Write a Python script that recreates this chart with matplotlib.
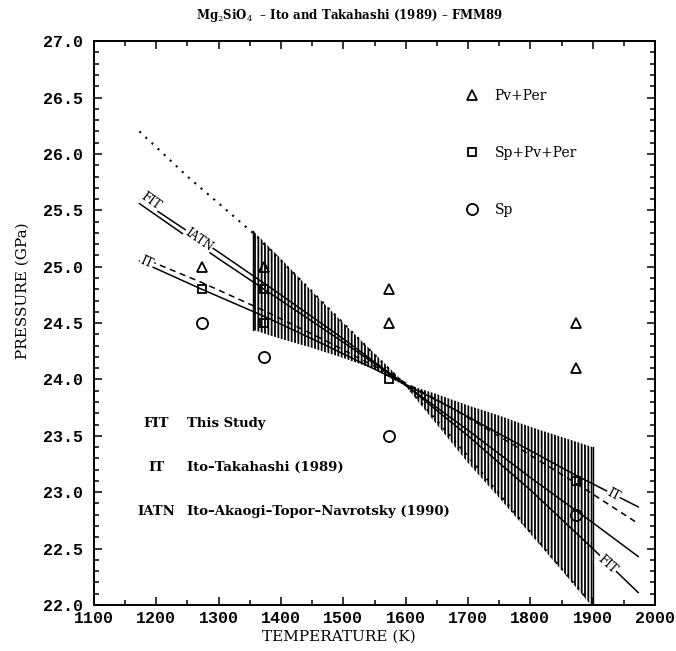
import matplotlib
matplotlib.use("Agg")
import matplotlib.pyplot as plt
from matplotlib.ticker import MultipleLocator, FormatStrFormatter

# phase boundaries (T in K, P in GPa)
T_fit = [1173, 1200, 1300, 1400, 1500, 1600, 1700, 1800, 1900, 1973]
P_fit = [25.60, 25.50, 25.13, 24.75, 24.36, 23.95, 23.50, 23.02, 22.50, 22.11]
T_iatn = [1173, 1300, 1400, 1500, 1600, 1700, 1800, 1900, 1973]
P_iatn = [25.56, 25.07, 24.70, 24.33, 23.95, 23.55, 23.13, 22.73, 22.43]
T_it = [1173, 1273, 1373, 1473, 1573, 1673, 1773, 1873, 1973]
P_it = [25.05, 24.80, 24.56, 24.30, 24.03, 23.75, 23.45, 23.15, 22.87]
T_itd = [1190, 1273, 1373, 1473, 1573, 1673, 1773, 1873, 1968]
P_itd = [25.05, 24.86, 24.61, 24.34, 24.05, 23.75, 23.42, 23.08, 22.74]
T_dot = [1173, 1250, 1355, 1450, 1550, 1600, 1700, 1800, 1890]
P_dot = [26.20, 25.80, 25.30, 24.78, 24.22, 23.95, 23.32, 22.65, 22.06]

# uncertainty envelope of the fit
T_env = [1355, 1400, 1450, 1500, 1550, 1600, 1650, 1700, 1750, 1800, 1850, 1900]
P_env_hi = [25.32, 25.07, 24.78, 24.50, 24.23, 23.96, 23.87, 23.77, 23.68, 23.58, 23.49, 23.40]
P_env_lo = [24.44, 24.36, 24.28, 24.19, 24.09, 23.94, 23.60, 23.26, 22.95, 22.63, 22.31, 21.98]

# experiments
T_pv = [1273, 1373, 1573, 1573, 1873, 1873]
P_pv = [25.0, 25.0, 24.8, 24.5, 24.5, 24.1]
T_mix = [1273, 1373, 1373, 1573, 1873]
P_mix = [24.8, 24.8, 24.5, 24.0, 23.1]
T_sp = [1273, 1373, 1573, 1873]
P_sp = [24.5, 24.2, 23.5, 22.8]

key_abbr = ["FIT", "IT", "IATN"]
key_text = ["This Study", "Ito\u2013Takahashi (1989)", "Ito\u2013Akaogi\u2013Topor\u2013Navrotsky (1990)"]

SERIF = "DejaVu Serif"
plt.rcParams["hatch.linewidth"] = 1.3
plt.rcParams["mathtext.fontset"] = "dejavuserif"

fig = plt.figure(figsize=(6.76, 6.51), dpi=100)
ax = fig.add_axes([0.139, 0.0707, 0.830, 0.866])

ax.fill_between(T_env, P_env_lo, P_env_hi, facecolor="none", edgecolor="black",
                hatch="|" * 5, linewidth=0, zorder=1)
ax.plot([T_env[0]] * 2, [P_env_lo[0], P_env_hi[0]], color="black", lw=1.0)
ax.plot([T_env[-1]] * 2, [P_env_lo[-1], P_env_hi[-1]], color="black", lw=1.0)

ax.plot(T_dot, P_dot, color="black", lw=1.5, ls=(0, (1, 3)), zorder=2)
ax.plot(T_fit, P_fit, color="black", lw=1.1, zorder=2)
ax.plot(T_iatn, P_iatn, color="black", lw=1.1, zorder=2)
ax.plot(T_it, P_it, color="black", lw=1.1, zorder=2)
ax.plot(T_itd, P_itd, color="black", lw=1.1, ls=(0, (4, 3)), zorder=2)

lab = dict(family=SERIF, fontsize=8.5, ha="center", va="center", zorder=4,
           bbox=dict(facecolor="white", edgecolor="none", pad=0.5))
ax.text(1191, 25.58, "FIT", rotation=-35, **lab)
ax.text(1268, 25.24, "IATN", rotation=-35, **lab)
ax.text(1185, 25.04, "IT", rotation=-24, **lab)
ax.text(1933, 22.98, "IT", rotation=-27, **lab)
ax.text(1923, 22.36, "FIT", rotation=-42, **lab)

mk = dict(ls="none", mfc="none", mec="black", mew=1.3, zorder=3)
h1, = ax.plot(T_pv, P_pv, marker="^", ms=7, label="Pv+Per", **mk)
h2, = ax.plot(T_mix, P_mix, marker="s", ms=6, label="Sp+Pv+Per", **mk)
h3, = ax.plot(T_sp, P_sp, marker="o", ms=8, label="Sp", **mk)
ax.legend(handles=[h1, h2, h3], loc="upper left", bbox_to_anchor=(0.64, 0.937),
          frameon=False, labelspacing=3.1, handlelength=1.0, handletextpad=1.1,
          prop=dict(family=SERIF, size=10))

for i, (a, t) in enumerate(zip(key_abbr, key_text)):
    y = 0.3227 - i * 0.0787
    ax.text(0.1105, y, a, transform=ax.transAxes, ha="center", va="center",
            family=SERIF, fontsize=9.5, fontweight="bold")
    ax.text(0.166, y, t, transform=ax.transAxes, ha="left", va="center",
            family=SERIF, fontsize=9.5, fontweight="bold")

ax.set_xlim(1100, 2000)
ax.set_ylim(22.0, 27.0)
ax.xaxis.set_major_locator(MultipleLocator(100))
ax.xaxis.set_minor_locator(MultipleLocator(50))
ax.yaxis.set_major_locator(MultipleLocator(0.5))
ax.yaxis.set_minor_locator(MultipleLocator(0.1))
ax.yaxis.set_major_formatter(FormatStrFormatter("%.1f"))
ax.tick_params(which="both", direction="in", top=True, right=True, width=1.1)
ax.tick_params(which="major", length=6)
ax.tick_params(axis="x", which="major", pad=4)
ax.tick_params(axis="y", which="major", pad=8)
ax.tick_params(which="minor", length=3.5)
for lbl in ax.get_xticklabels() + ax.get_yticklabels():
    lbl.set_family("Liberation Mono")
    lbl.set_fontsize(12)
    lbl.set_fontweight("bold")
for s in ax.spines.values():
    s.set_linewidth(1.4)

fig.text(339 / 676, 1 - 637 / 651, "TEMPERATURE (K)", ha="center", va="center",
         family=SERIF, fontsize=11)
fig.text(23 / 676, 1 - 291 / 651, "PRESSURE (GPa)", rotation=90, ha="center",
         va="center", family=SERIF, fontsize=11)
fig.text(350 / 676, 1 - 16 / 651,
         "Mg$_2$SiO$_4$  \u2013 Ito and Takahashi (1989) \u2013 FMM89",
         ha="center", va="center", family=SERIF, fontsize=8.5, fontweight="bold")

fig.savefig("out.png", dpi=100)
